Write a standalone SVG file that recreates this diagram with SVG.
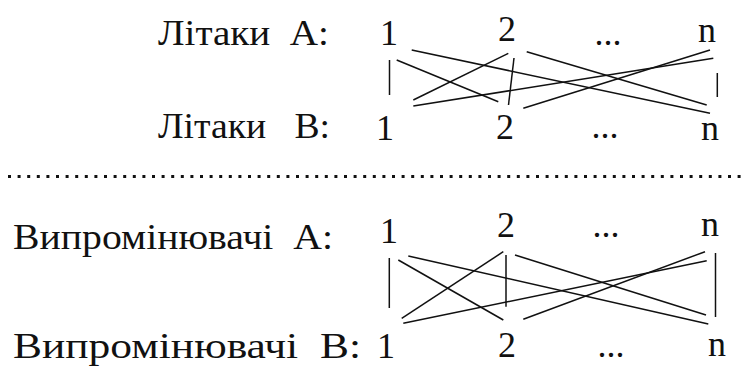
<svg xmlns="http://www.w3.org/2000/svg" width="747" height="367" viewBox="0 0 747 367">
<style>
text{font-family:'Liberation Serif','Liberation Sans',Arial,sans-serif;font-size:36px;fill:#111;}
.lbl{white-space:pre;}
.num{text-anchor:middle;}
.c{stroke:#111;stroke-width:1.5;fill:none;}
.sep{stroke:#111;stroke-width:3;stroke-dasharray:3 6.6;}
</style>
<rect width="747" height="367" fill="#fff"/>
<g id="labels">
<text class="lbl" x="158" y="45" textLength="171" lengthAdjust="spacingAndGlyphs" xml:space="preserve">Літаки  A:</text>
<text class="lbl" x="158" y="138" textLength="172" lengthAdjust="spacingAndGlyphs" xml:space="preserve">Літаки   B:</text>
<text class="lbl" x="13" y="249" textLength="320" lengthAdjust="spacingAndGlyphs" xml:space="preserve">Випромінювачі  A:</text>
<text class="lbl" x="13" y="358" textLength="348" lengthAdjust="spacingAndGlyphs" xml:space="preserve">Випромінювачі  B:</text>
</g>
<g id="planeA1"><text class="num" x="389" y="45">1</text></g>
<g id="planeA2"><text class="num" x="507" y="41">2</text></g>
<g id="planeAdots"><text class="num" x="608" y="45">...</text></g>
<g id="planeAn"><text class="num" x="707" y="42">n</text></g>
<g id="planeB1"><text class="num" x="385" y="140">1</text></g>
<g id="planeB2"><text class="num" x="505" y="139">2</text></g>
<g id="planeBdots"><text class="num" x="605" y="138">...</text></g>
<g id="planeBn"><text class="num" x="710" y="140">n</text></g>
<g id="emA1"><text class="num" x="389" y="243">1</text></g>
<g id="emA2"><text class="num" x="506" y="237">2</text></g>
<g id="emAdots"><text class="num" x="606" y="237">...</text></g>
<g id="emAn"><text class="num" x="710" y="236">n</text></g>
<g id="emB1"><text class="num" x="386" y="358">1</text></g>
<g id="emB2"><text class="num" x="507" y="357">2</text></g>
<g id="emBdots"><text class="num" x="611" y="357">...</text></g>
<g id="emBn"><text class="num" x="717" y="356">n</text></g>
<g id="separator"><line class="sep" x1="8" y1="176.5" x2="747" y2="176.5"/></g>
<g id="connectors">
<line class="c" x1="389.5" y1="60" x2="389.5" y2="95"/>
<line class="c" x1="396.7" y1="60" x2="498.3" y2="101.7"/>
<line class="c" x1="411.7" y1="50" x2="710" y2="113.3"/>
<line class="c" x1="508.3" y1="53.3" x2="413.3" y2="100"/>
<line class="c" x1="514" y1="58" x2="508.5" y2="105"/>
<line class="c" x1="526.7" y1="51.7" x2="706.7" y2="105"/>
<line class="c" x1="713.3" y1="58.3" x2="413.3" y2="106"/>
<line class="c" x1="710" y1="50" x2="523.3" y2="108.3"/>
<line class="c" x1="717.3" y1="73" x2="717.3" y2="97"/>
<line class="c" x1="389.3" y1="258" x2="389.3" y2="308"/>
<line class="c" x1="398.3" y1="260" x2="503.3" y2="320"/>
<line class="c" x1="408.3" y1="256" x2="708.3" y2="324"/>
<line class="c" x1="503.3" y1="251.7" x2="401.7" y2="318.3"/>
<line class="c" x1="506" y1="255" x2="506" y2="306.7"/>
<line class="c" x1="515" y1="255" x2="706" y2="315"/>
<line class="c" x1="706.7" y1="260.7" x2="403.3" y2="323.3"/>
<line class="c" x1="705" y1="251.7" x2="523.3" y2="319.3"/>
<line class="c" x1="715.5" y1="253" x2="715.5" y2="317"/>
</g>
</svg>
